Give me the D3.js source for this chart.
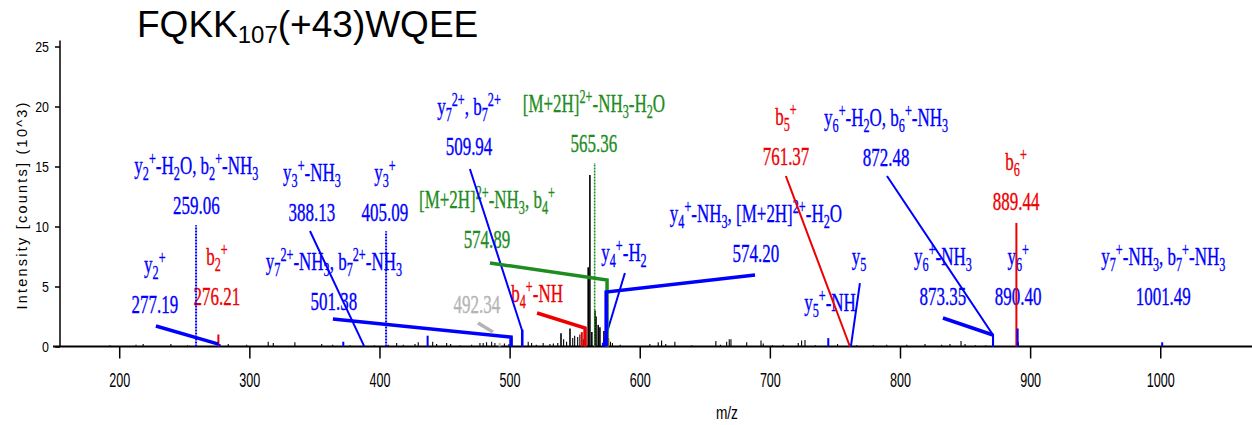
<!DOCTYPE html>
<html>
<head>
<meta charset="utf-8">
<script src="https://cdn.jsdelivr.net/npm/d3@7"></script>
<style>
  html, body { margin: 0; padding: 0; background: #fff; }
  svg { display: block; }
</style>
</head>
<body>
<svg id="chart" width="1252" height="425"></svg>
<script>
// ---------- data ----------
const xTicks = [200, 300, 400, 500, 600, 700, 800, 900, 1000];
const yTicks = [0, 5, 10, 15, 20, 25];
const xLabel = "m/z";
const yLabel = "Intensity [counts] (10^3)";
const titleParts = ["FQKK", "107", "(+43)WQEE"];

// unassigned peaks: [m/z, intensity (10^3 counts)]
const noisePeaks = [
  [192.9,0.1],[212.9,0.15],[218.4,0.2],[239.7,0.2],[252.5,0.1],[283.8,0.2],[297.9,0.15],
  [314.5,0.4],[318.4,0.3],[335.0,0.35],[355.6,0.2],[364.0,0.15],[377.3,0.1],[396.0,0.1],
  [406.7,0.15],[413.2,0.3],[418.3,0.15],[427.3,0.2],[429.8,0.35],[440.9,0.4],[443.9,0.2],
  [451.6,0.3],[454.7,0.2],[462.0,0.1],[470.8,0.15],[477.2,0.3],[479.7,0.3],[482.3,0.35],
  [486.2,0.4],[488.7,0.3],[496.0,0.25],[499.5,0.2],[514.3,0.4],[516.9,0.3],[520.5,0.15],
  [525.8,0.3],[531.0,0.2],[533.6,0.25],[537.0,0.3],[539.5,1.1],[541.5,0.6],[543.8,0.4],
  [546.4,1.5],[548.5,0.7],[550.0,0.9],[552.3,0.8],[554.0,1.0],[556.6,0.6],[560.4,6.6],
  [561.7,14.3],[563.2,1.2],[565.6,3.0],[566.4,2.5],[568.1,1.8],[569.4,1.6],[572.5,1.3],
  [577.5,0.4],[579.0,0.3],[585.0,0.15],[607.8,0.2],[614.2,0.35],[616.8,0.5],[620.0,0.2],
  [627.0,0.4],[640.0,0.1],[658.5,0.45],[662.0,0.15],[666.8,0.4],[668.8,0.6],[670.1,0.6],
  [682.2,0.35],[693.2,0.5],[694.9,0.25],[702.0,0.1],[710.3,0.15],[721.8,0.3],[724.4,0.5],
  [727.0,0.55],[735.0,0.1],[752.0,0.2],[766.7,0.1],[779.5,0.12],[789.8,0.15],[805.2,0.15],
  [819.2,0.2],[832.0,0.15],[838.4,0.2],[846.9,0.45],[850.0,0.2],[858.0,0.1],[866.0,0.1],
  [890.9,0.4],[925.0,0.05]
];

// assigned peaks: [m/z, intensity, ion type]
const matchedPeaks = [
  [259.06,10.1,"y"],[276.21,1.0,"b"],[277.19,0.2,"y"],[372.2,0.4,"y"],[388.13,0.1,"y"],
  [405.09,9.6,"y"],[437.0,0.9,"y"],[492.34,0.3,"u"],[501.38,0.8,"y"],[509.94,1.4,"y"],
  [555.5,1.2,"b"],[558.0,1.5,"b"],[565.36,15.3,"M"],[571.7,0.3,"y"],[574.2,4.5,"y"],
  [574.89,5.5,"M"],[575.8,0.7,"b"],[744.9,0.7,"y"],[761.37,0.1,"b"],[762.3,0.1,"y"],
  [871.5,1.0,"y"],[889.44,10.3,"b"],[890.40,1.5,"y"],[1001.49,0.35,"y"]
];
const dottedPeaks = [259.06, 405.09, 565.36];

// peak annotations, anchored (ion line) at [m/z, intensity]
const labels = [
  {ion:"y_{2}^{+}-H_{2}O, b_{2}^{+}-NH_{3}", mz:"259.06", type:"y", at:[259.3,14.375]},
  {ion:"y_{3}^{+}-NH_{3}", mz:"388.13", type:"y", at:[348.1,13.79]},
  {ion:"y_{3}^{+}", mz:"405.09", type:"y", at:[404.2,13.79]},
  {ion:"b_{2}^{+}", mz:"276.21", type:"b", at:[275.1,6.79]},
  {ion:"y_{2}^{+}", mz:"277.19", type:"y", at:[227.4,6.125]},
  {ion:"y_{7}^{2+}-NH_{3}, b_{7}^{2+}-NH_{3}", mz:"501.38", type:"y", at:[365.0,6.375]},
  {ion:"y_{7}^{2+}, b_{7}^{2+}", mz:"509.94", type:"y", at:[468.8,19.29]},
  {ion:"[M+2H]^{2+}-NH_{3}-H_{2}O", mz:"565.36", type:"M", at:[564.8,19.54]},
  {ion:"[M+2H]^{2+}-NH_{3}, b_{4}^{+}", mz:"574.89", type:"M", at:[482.6,11.54]},
  {ion:"", mz:"492.34", type:"u", at:[474.9,6.125]},
  {ion:"b_{4}^{+}-NH", mz:"", type:"b", at:[521.1,3.71]},
  {ion:"y_{4}^{+}-H_{2}", mz:"", type:"y", at:[587.9,7.125]},
  {ion:"y_{4}^{+}-NH_{3}, [M+2H]^{2+}-H_{2}O", mz:"574.20", type:"y", at:[689.3,10.375]},
  {ion:"b_{5}^{+}", mz:"761.37", type:"b", at:[712.4,18.46]},
  {ion:"y_{6}^{+}-H_{2}O, b_{6}^{+}-NH_{3}", mz:"872.48", type:"y", at:[789.3,18.375]},
  {ion:"b_{6}^{+}", mz:"889.44", type:"b", at:[889.2,14.71]},
  {ion:"y_{5}", mz:"", type:"y", at:[768.5,6.79]},
  {ion:"y_{5}^{+}-NH", mz:"", type:"y", at:[746.2,2.96]},
  {ion:"y_{6}^{+}-NH_{3}", mz:"873.35", type:"y", at:[833.0,6.79]},
  {ion:"y_{6}^{+}", mz:"890.40", type:"y", at:[890.8,6.79]},
  {ion:"y_{7}^{+}-NH_{3}, b_{7}^{+}-NH_{3}", mz:"1001.49", type:"y", at:[1002.3,6.79]}
];

// leader lines from label to peak
const thickLeaders = [
  {type:"y", pts:[[228.2,1.71],[276.3,0.2]]},
  {type:"y", pts:[[364.2,2.29],[501.1,0.79],[501.1,0]]},
  {type:"u", pts:[[475.7,1.96],[487.2,1.2]]},
  {type:"b", pts:[[521.1,2.79],[558.0,1.54],[558.0,0]]},
  {type:"M", pts:[[484.9,6.96],[574.89,5.54],[574.89,0]]},
  {type:"y", pts:[[688.6,5.96],[574.2,4.54],[574.2,0]]},
  {type:"y", pts:[[833.0,2.375],[871.5,0.96]]}
];
const thinLeaders = [
  {type:"y", pts:[[346.6,9.625],[388.13,0.05]]},
  {type:"y", pts:[[469.5,14.79],[509.5,1.37],[509.5,0]]},
  {type:"y", pts:[[588.6,6.125],[571.7,0.04]]},
  {type:"b", pts:[[712.3,14.21],[761.37,0.04]]},
  {type:"y", pts:[[769.2,5.29],[762.3,0.04]]},
  {type:"y", pts:[[790.0,14.21],[871.5,0.96],[871.5,0]]}
];

// ---------- drawing ----------
const svg = d3.select("#chart");
const x = d3.scaleLinear().domain([154.5, 1070.5]).range([60, 1252]);
const y = d3.scaleLinear().domain([0, 25]).range([346.5, 46.5]);
const color = d3.scaleOrdinal()
  .domain(["y", "b", "M", "u"])
  .range(["#0000ff", "#ee0000", "#1e8c1e", "#b4b4b4"]);

// title
const title = svg.append("text")
  .attr("x", 137).attr("y", 37)
  .attr("font-family", "Liberation Sans, Arial, sans-serif")
  .attr("font-size", 37).attr("fill", "#000");
title.append("tspan").text(titleParts[0]);
title.append("tspan").attr("font-size", 24).attr("dy", 6).text(titleParts[1]);
title.append("tspan").attr("dy", -6).text(titleParts[2]);

// axes
const xMinor = d3.range(160, 1070, 20).filter(v => v % 100 !== 0);
const yMinor = d3.range(0, 26, 1).filter(v => v % 5 !== 0);

const gx = svg.append("g").attr("transform", `translate(0,${y(0)})`);
gx.call(d3.axisBottom(x).tickValues(xMinor).tickSize(7).tickFormat(""));
gx.call(d3.axisBottom(x).tickValues(xTicks).tickSize(12).tickFormat(d3.format("d")));
gx.selectAll(".domain").remove();
gx.selectAll("line").attr("stroke", "#000").attr("stroke-width", 1.5);
gx.selectAll("text")
  .attr("y", 0).attr("dy", 0)
  .attr("transform", "translate(0,40.5) scale(0.645,1)")
  .attr("font-family", "Liberation Sans, Arial, sans-serif")
  .attr("font-size", 19.5).attr("fill", "#000");

const gy = svg.append("g").attr("transform", "translate(60,0)");
gy.call(d3.axisLeft(y).tickValues(yMinor).tickSize(3).tickFormat(""));
gy.call(d3.axisLeft(y).tickValues(yTicks).tickSize(5));
gy.selectAll(".domain").remove();
gy.selectAll("line").attr("stroke", "#000").attr("stroke-width", 1.5);
gy.selectAll("text")
  .attr("x", 0).attr("dy", "0.35em")
  .attr("transform", "translate(-11,0) scale(0.8,1)")
  .attr("font-family", "Liberation Sans, Arial, sans-serif")
  .attr("font-size", 15.5).attr("fill", "#000");

svg.append("line")
  .attr("x1", 53).attr("x2", 1252).attr("y1", y(0)).attr("y2", y(0))
  .attr("stroke", "#000").attr("stroke-width", 2);
svg.append("line")
  .attr("x1", 60).attr("x2", 60).attr("y1", y(25.5)).attr("y2", y(0))
  .attr("stroke", "#000").attr("stroke-width", 1.5);

svg.append("text")
  .attr("transform", `translate(27,${y(11.7)}) rotate(-90)`)
  .attr("text-anchor", "middle")
  .attr("font-family", "Liberation Sans, Arial, sans-serif")
  .attr("font-size", 14.5).attr("fill", "#000")
  .attr("textLength", 207).attr("lengthAdjust", "spacing")
  .text(yLabel);

svg.append("text")
  .attr("transform", `translate(${x(667)},419) scale(0.72,1)`)
  .attr("text-anchor", "middle")
  .attr("font-family", "Liberation Sans, Arial, sans-serif")
  .attr("font-size", 19).attr("fill", "#000")
  .text(xLabel);

// annotation text
function richText(sel, str, size) {
  const parts = str.split(/(_\{[^}]*\}|\^\{[^}]*\})/).filter(s => s.length);
  let off = 0;
  parts.forEach(p => {
    let t = p, target = 0, fs = size;
    if (p.startsWith("_{")) { t = p.slice(2, -1); target = size * 0.22; fs = size * 0.72; }
    else if (p.startsWith("^{")) { t = p.slice(2, -1); target = -size * 0.36; fs = size * 0.72; }
    sel.append("tspan").attr("dy", target - off).attr("font-size", fs).text(t);
    off = target;
  });
}

const lab = svg.append("g").selectAll("g")
  .data(labels).enter().append("g")
  .attr("transform", d => `translate(${x(d.at[0])},${y(d.at[1])}) scale(0.653,1)`)
  .attr("font-family", "Liberation Serif, Times New Roman, serif")
  .attr("text-anchor", "middle")
  .attr("fill", d => color(d.type))
  .attr("stroke", d => color(d.type)).attr("stroke-width", 0.35);
lab.append("text").attr("font-size", 26).each(function(d) { richText(d3.select(this), d.ion, 26); });
lab.append("text").attr("y", 40).attr("font-size", 26).text(d => d.mz);

// peaks
svg.append("g").selectAll("line")
  .data(noisePeaks).enter().append("line")
  .attr("x1", d => x(d[0])).attr("x2", d => x(d[0]))
  .attr("y1", y(0)).attr("y2", d => y(d[1]))
  .attr("stroke", "#000").attr("stroke-width", d => d[1] > 1 ? 1.6 : 1.1);

svg.append("g").selectAll("line")
  .data(matchedPeaks).enter().append("line")
  .attr("x1", d => x(d[0])).attr("x2", d => x(d[0]))
  .attr("y1", y(0)).attr("y2", d => y(d[1]))
  .attr("stroke", d => color(d[2]))
  .attr("stroke-width", d => d[2] === "M" ? 1.6 : 2)
  .attr("stroke-dasharray", d => dottedPeaks.includes(d[0]) ? "2,1" : null);

// leader lines
const leader = d3.line().x(d => x(d[0])).y(d => y(d[1]));
svg.append("g").selectAll("path")
  .data(thinLeaders).enter().append("path")
  .attr("d", d => leader(d.pts))
  .attr("fill", "none").attr("stroke", d => color(d.type)).attr("stroke-width", 2);
svg.append("g").selectAll("path")
  .data(thickLeaders).enter().append("path")
  .attr("d", d => leader(d.pts))
  .attr("fill", "none").attr("stroke", d => color(d.type))
  .attr("stroke-width", 3.5).attr("stroke-linejoin", "miter");
</script>
</body>
</html>
